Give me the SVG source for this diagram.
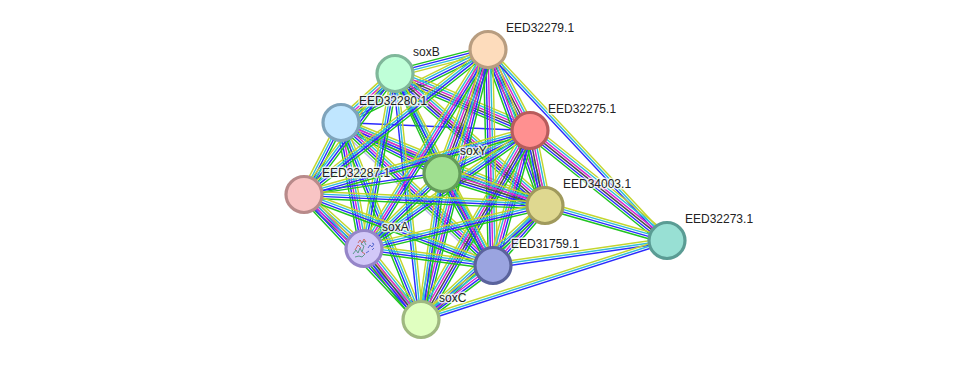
<svg xmlns="http://www.w3.org/2000/svg" width="975" height="365" viewBox="0 0 975 365">
<style>
line{stroke-width:1.45;fill:none}
.y{stroke:#c3d62e}.c{stroke:#2fbcd8}.m{stroke:#d926d0}.k{stroke:#4a4a4a}.b{stroke:#2a2aff}.g{stroke:#1fc41f}.p{stroke:#b9b4f0}
.node circle{stroke-width:3.2}
.fold{fill:none;stroke-width:1}
text{font:12px "Liberation Sans",Arial,sans-serif;fill:#222;stroke:#fff;stroke-width:3px;stroke-opacity:.75;paint-order:stroke;stroke-linejoin:round}
</style>
<defs>
<!-- unit-length evidence bundles; each connector stretches one along its own axis -->
<g id="all"><line class="y" x2="1" y1="-5.75" y2="-5.75"/><line class="c" x2="1" y1="-3.45" y2="-3.45"/><line class="m" x2="1" y1="-1.15" y2="-1.15"/><line class="k" x2="1" y1="1.15" y2="1.15"/><line class="b" x2="1" y1="3.45" y2="3.45"/><line class="g" x2="1" y1="5.75" y2="5.75"/></g>
<g id="five"><line class="y" x2="1" y1="-4.6" y2="-4.6"/><line class="c" x2="1" y1="-2.3" y2="-2.3"/><line class="m" x2="1"/><line class="b" x2="1" y1="2.3" y2="2.3"/><line class="g" x2="1" y1="4.6" y2="4.6"/></g>
<g id="four"><line class="y" x2="1" y1="-3.45" y2="-3.45"/><line class="c" x2="1" y1="-1.15" y2="-1.15"/><line class="b" x2="1" y1="1.15" y2="1.15"/><line class="g" x2="1" y1="3.45" y2="3.45"/></g>
<g id="three"><line class="y" x2="1" y1="-2.3" y2="-2.3"/><line class="c" x2="1"/><line class="b" x2="1" y1="2.3" y2="2.3"/></g>
<g id="homol"><line class="y" x2="1" y1="-5.75" y2="-5.75"/><line class="c" x2="1" y1="-3.45" y2="-3.45"/><line class="m" x2="1" y1="-1.15" y2="-1.15"/><line class="b" x2="1" y1="1.15" y2="1.15"/><line class="g" x2="1" y1="3.45" y2="3.45"/><line class="p" x2="1" y1="5.75" y2="5.75"/></g>
<g id="bg"><line class="b" x2="1" y1="-1.15" y2="-1.15"/><line class="g" x2="1" y1="1.15" y2="1.15"/></g>
<g id="blue"><line class="b" x2="1"/></g>
</defs>
<g id="connectors" transform="translate(0 .5)">
<use href="#four" transform="matrix(93 -24 -.25 -.968 395 73)"/>
<use href="#five" transform="matrix(54 -49 .672 .741 341 122)"/>
<use href="#four" transform="matrix(147 -73 .445 .896 341 122)"/>
<use href="#blue" transform="matrix(189 8 -.042 .999 341 122)"/>
<use href="#five" transform="matrix(101 51 -.451 .893 341 122)"/>
<use href="#four" transform="matrix(37 -72 .889 .457 304 194)"/>
<use href="#five" transform="matrix(204 83 -.377 .926 341 122)"/>
<use href="#five" transform="matrix(23 126 -.984 .18 341 122)"/>
<use href="#homol" transform="matrix(152 143 -.685 .728 341 122)"/>
<use href="#four" transform="matrix(80 197 -.927 .376 341 122)"/>
<use href="#all" transform="matrix(135 57 -.389 .921 395 73)"/>
<use href="#four" transform="matrix(47 100 -.905 .425 395 73)"/>
<use href="#four" transform="matrix(91 -121 .799 .601 304 194)"/>
<use href="#all" transform="matrix(150 132 -.661 .751 395 73)"/>
<use href="#four" transform="matrix(31 -175 .985 .174 364 248)"/>
<use href="#four" transform="matrix(98 192 -.891 .455 395 73)"/>
<use href="#three" transform="matrix(26 246 -.994 .105 395 73)"/>
<use href="#all" transform="matrix(42 81 -.888 .461 488 49)"/>
<use href="#all" transform="matrix(46 -124 .937 .348 442 173)"/>
<use href="#four" transform="matrix(184 -145 .619 .785 304 194)"/>
<use href="#five" transform="matrix(57 156 -.939 .343 488 49)"/>
<use href="#five" transform="matrix(124 -199 .849 .529 364 248)"/>
<use href="#five" transform="matrix(5 216 -1 .023 488 49)"/>
<use href="#five" transform="matrix(67 -270 .971 .241 421 319)"/>
<use href="#three" transform="matrix(179 191 -.73 .684 488 49)"/>
<use href="#four" transform="matrix(88 -43 .439 .898 442 173)"/>
<use href="#four" transform="matrix(226 -64 .272 .962 304 194)"/>
<use href="#all" transform="matrix(15 75 -.981 .196 530 130)"/>
<use href="#four" transform="matrix(166 -118 .579 .815 364 248)"/>
<use href="#five" transform="matrix(37 -135 .964 .264 493 265)"/>
<use href="#all" transform="matrix(109 -189 .866 .5 421 319)"/>
<use href="#all" transform="matrix(137 110 -.626 .78 530 130)"/>
<use href="#bg" transform="matrix(138 -21 .15 .989 304 194)"/>
<use href="#all" transform="matrix(103 32 -.297 .955 442 173)"/>
<use href="#four" transform="matrix(78 -75 .693 .721 364 248)"/>
<use href="#five" transform="matrix(51 92 -.875 .485 442 173)"/>
<use href="#four" transform="matrix(21 -146 .99 .142 421 319)"/>
<use href="#four" transform="matrix(241 11 -.046 .999 304 194)"/>
<use href="#five" transform="matrix(60 54 -.669 .743 304 194)"/>
<use href="#four" transform="matrix(189 71 -.352 .936 304 194)"/>
<use href="#five" transform="matrix(117 125 -.73 .683 304 194)"/>
<use href="#four" transform="matrix(181 -43 .231 .973 364 248)"/>
<use href="#five" transform="matrix(52 -60 .756 .655 493 265)"/>
<use href="#four" transform="matrix(124 -114 .677 .736 421 319)"/>
<use href="#four" transform="matrix(122 35 -.276 .961 545 205)"/>
<use href="#four" transform="matrix(129 17 -.131 .991 364 248)"/>
<use href="#all" transform="matrix(57 71 -.78 .626 364 248)"/>
<use href="#five" transform="matrix(72 -54 .6 .8 421 319)"/>
<use href="#three" transform="matrix(174 -25 .142 .989 493 265)"/>
<use href="#three" transform="matrix(246 -79 .306 .952 421 319)"/>
</g>
<g id="soxB" class="node"><circle cx="395" cy="73.5" r="18" fill="#bfffd8" stroke="#7fb79a"/></g>
<g id="EED32279" class="node"><circle cx="488" cy="49.5" r="18" fill="#fddcbc" stroke="#b89d80"/></g>
<g id="EED32280" class="node"><circle cx="341" cy="122.5" r="18" fill="#c0e6ff" stroke="#7ea3bb"/></g>
<g id="EED32275" class="node"><circle cx="530" cy="130.5" r="18" fill="#ff9090" stroke="#b85c5c"/></g>
<g id="soxY" class="node"><circle cx="442" cy="173.5" r="18" fill="#9fdf90" stroke="#639c5a"/></g>
<g id="EED32287" class="node"><circle cx="304" cy="194.5" r="18" fill="#f8c4c4" stroke="#b88a8a"/></g>
<g id="EED34003" class="node"><circle cx="545" cy="205.5" r="18" fill="#dfd890" stroke="#a09a5c"/></g>
<g id="soxA" class="node"><circle cx="364" cy="248.5" r="18" fill="#d2c8f8" stroke="#9585c8"/>
<!-- ribbon sketch of the protein fold -->
<path class="fold" stroke="#5f9a8e" d="M353 254l3-4 2 3 2-5 2 4 2-6-3-2 3-3 2 4M355 257l4-1 3 1 3-3"/>
<path class="fold" stroke="#c86a6a" d="M358 243l2-3 2 3 2-4 2 3M355 250l3-5 3 3M362 252l3 2"/>
<path class="fold" stroke="#5a6ad0" d="M368 248l2-3 2 2 2-3-2-1M366 253l3-2M372 250l2-2"/>
</g>
<g id="EED31759" class="node"><circle cx="493" cy="265.5" r="18" fill="#9aa4e0" stroke="#5a639c"/></g>
<g id="soxC" class="node"><circle cx="421" cy="319.5" r="18" fill="#e0ffc0" stroke="#9fb880"/></g>
<g id="EED32273" class="node"><circle cx="667" cy="240.5" r="18" fill="#98e0d4" stroke="#5a9c94"/></g>
<g id="labels">
<text x="413" y="56">soxB</text>
<text x="506" y="32">EED32279.1</text>
<text x="359" y="105">EED32280.1</text>
<text x="548" y="113">EED32275.1</text>
<text x="460" y="155">soxY</text>
<text x="322" y="177">EED32287.1</text>
<text x="563" y="188">EED34003.1</text>
<text x="685" y="223">EED32273.1</text>
<text x="382" y="231">soxA</text>
<text x="511" y="248">EED31759.1</text>
<text x="439" y="302">soxC</text>
</g>
</svg>
